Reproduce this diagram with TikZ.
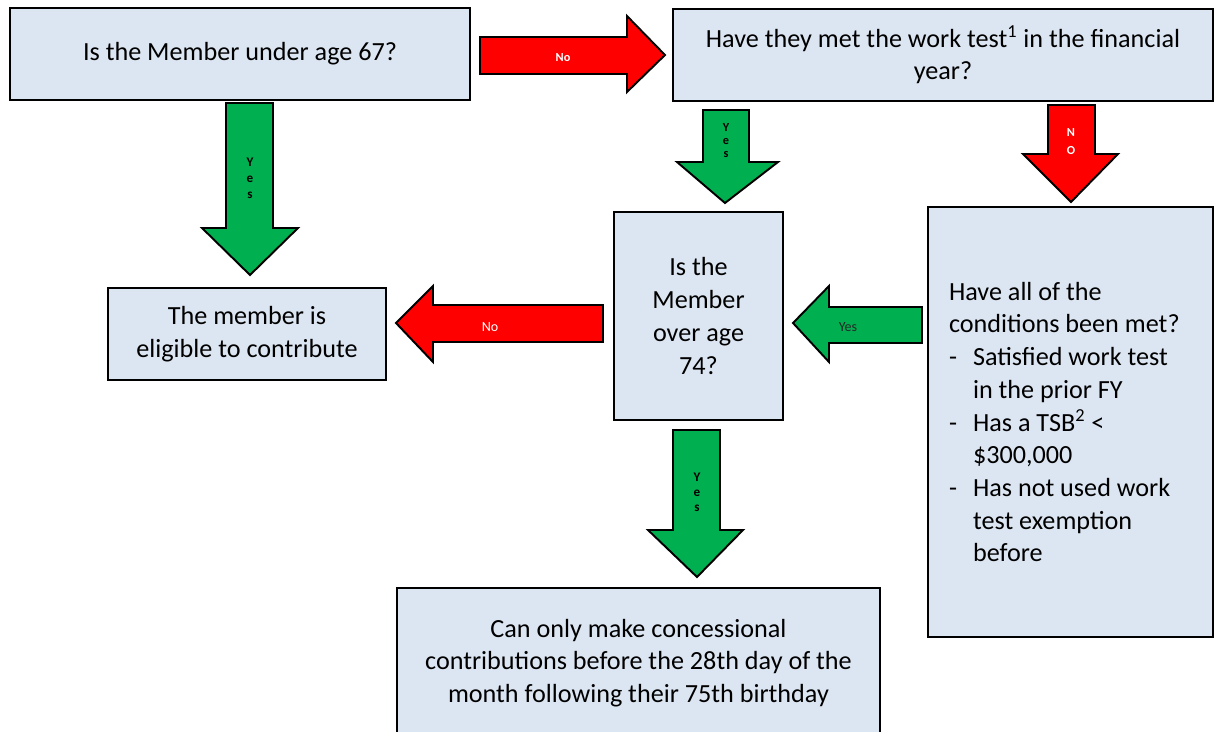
\documentclass[tikz,border=0pt]{standalone}
\usepackage{fontspec}
\setmainfont{Carlito}
\usetikzlibrary{positioning}
\definecolor{boxblue}{HTML}{DCE6F2}
\definecolor{yesgreen}{HTML}{00B050}
\definecolor{nored}{HTML}{FF0000}
\tikzset{
  qbox/.style={draw=black, fill=boxblue, line width=1.1pt, inner sep=0pt, align=center,
    font=\fontsize{14.9}{18.6}\selectfont},
  yesarrow/.style={draw=black, fill=yesgreen, line width=1.1pt},
  noarrow/.style={draw=black, fill=nored, line width=1.1pt},
  tag/.style={inner sep=0pt, align=center, font=\fontsize{7.5}{8.6}\selectfont\bfseries}
}

\begin{document}
\begin{tikzpicture}[x=0.02cm, y=-0.02cm]
\useasboundingbox (0,0) rectangle (1214,731);
\clip (0,0) rectangle (1214,731);

% question boxes
\node[qbox, minimum width=9.2cm, minimum height=1.84cm] (under67) at (240,54)
  {Is the Member under age 67?};
\node[qbox, minimum width=10.8cm, minimum height=1.84cm] (worktest) at (943,55)
  {Have they met the work test\textsuperscript{1} in the financial\\year?};
\node[qbox, minimum width=5.56cm, minimum height=1.84cm] (eligible) at (247,334)
  {The member is\\eligible to contribute};
\node[qbox, minimum width=3.38cm, minimum height=4.16cm] (over74) at (698.5,316)
  {Is the\\Member\\over age\\74?};
\node[qbox, align=flush left, inner xsep=0.42cm, text width=4.86cm, minimum height=8.6cm] (conditions) at (1070.5,422)
  {Have all of the\\
   conditions been met?\\
   \makebox[0.48cm][l]{-}Satisfied work test\\
   \hspace*{0.48cm}in the prior FY\\
   \makebox[0.48cm][l]{-}Has a TSB\textsuperscript{2} <\\
   \hspace*{0.48cm}\$300,000\\
   \makebox[0.48cm][l]{-}Has not used work\\
   \hspace*{0.48cm}test exemption\\
   \hspace*{0.48cm}before};
\node[qbox, minimum width=9.66cm, minimum height=3cm] (concessional) at (638.5,663)
  {Can only make concessional\\contributions before the 28th day of the\\month following their 75th birthday};

% block arrows
\draw[noarrow] (480,37) -- (627,37) -- (627,16) -- (665,55) -- (627,92) -- (627,74) -- (480,74) -- cycle;
\node[tag, text=white, font=\fontsize{7}{8}\selectfont\bfseries] (no1) at (563,58) {No};

\draw[yesarrow] (226,103) -- (273,103) -- (273,228) -- (298,228) -- (250,275) -- (202,228) -- (226,228) -- cycle;
\node[tag, font=\fontsize{7.5}{9.2}\selectfont\bfseries] (yes1) at (250,178) {Y\\e\\s};

\draw[yesarrow] (703,110) -- (749,110) -- (749,162) -- (778,162) -- (725,203) -- (677,162) -- (703,162) -- cycle;
\node[tag, font=\fontsize{7}{7.4}\selectfont\bfseries] (yes2) at (726,141) {Y\\e\\s};

\draw[noarrow] (1048,105) -- (1095,105) -- (1095,154) -- (1118,154) -- (1071,202) -- (1023,154) -- (1048,154) -- cycle;
\node[tag, text=white, font=\fontsize{7}{10.2}\selectfont\bfseries] (no2) at (1071,142) {N\\O};

\draw[yesarrow] (922,307) -- (829,307) -- (829,286) -- (793,323) -- (829,362) -- (829,343) -- (922,343) -- cycle;
\node[inner sep=0pt, text=black!85, font=\fontsize{8}{9}\selectfont] (yes3) at (848,327) {Yes};

\draw[noarrow] (603,305) -- (433,305) -- (433,286) -- (396,323) -- (433,362) -- (433,342) -- (603,342) -- cycle;
\node[inner sep=0pt, text=white, font=\fontsize{8}{9}\selectfont] (no3) at (490,327) {No};

\draw[yesarrow] (673,430) -- (720,430) -- (720,530) -- (743,530) -- (697,577) -- (648,530) -- (673,530) -- cycle;
\node[tag, font=\fontsize{7.5}{8.6}\selectfont\bfseries] (yes4) at (697,492) {Y\\e\\s};
\end{tikzpicture}
\end{document}
